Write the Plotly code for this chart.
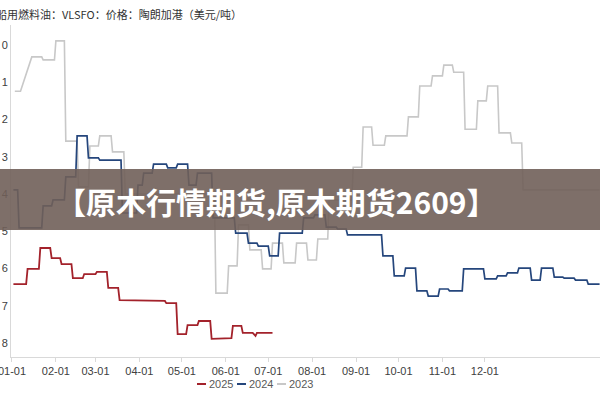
import pandas as pd
import plotly.graph_objects as go

# ---- data (day-of-year offsets from 01-01, value in axis units) ----
start_2023 = [2, 14, 22, 31, 38, 47, 55, 62, 71, 80, 144, 153, 160, 168, 177, 184, 192, 201, 209, 216,
              224, 241, 248, 255, 264, 280, 288, 297, 305, 312, 320, 329, 336, 344, 353, 361]
end_2023 = [6, 21, 30, 37, 46, 54, 61, 70, 79, 143, 152, 159, 167, 176, 183, 191, 200, 208, 215, 223,
            240, 247, 254, 263, 279, 287, 296, 304, 311, 319, 328, 335, 343, 352, 360, 415]
val_2023 = [1.24, 0.32, 0.40, -0.11, 2.58, 3.81, 2.71, 2.44, 2.87, 4.00, 6.66, 5.93, 4.83, 5.50, 6.01, 5.32,
            5.85, 5.32, 5.77, 5.21, 4.16, 3.28, 2.20, 2.69, 2.44, 1.93, 1.10, 0.83, 0.54, 0.73, 2.26, 1.50,
            1.10, 2.36, 2.63, 3.89]

start_2024 = [1, 5, 22, 29, 38, 46, 54, 62, 78, 89, 93, 100, 110, 117, 125, 131, 142, 158, 167, 174, 182,
              189, 206, 214, 222, 230, 237, 262, 270, 278, 286, 294, 302, 309, 319, 334, 343, 350, 358,
              367, 374, 383, 390, 398, 407]
val_2024 = [3.89, 4.91, 4.32, 4.16, 3.54, 2.44, 3.03, 3.09, 4.51, 3.76, 3.44, 3.20, 3.30, 3.20, 3.76, 3.44,
            4.64, 5.05, 5.32, 5.40, 5.66, 5.05, 4.64, 4.56, 4.89, 4.94, 5.10, 5.66, 6.20, 5.99, 6.60, 6.74,
            6.55, 6.60, 6.01, 6.28, 6.20, 6.12, 5.99, 6.31, 5.99, 6.23, 6.26, 6.31, 6.42]
last_day_2024 = 415

start_2025 = [1, 11, 20, 28, 35, 43, 51, 60, 68, 76, 84, 109, 117, 124, 132, 141, 148, 156, 163, 172, 173]
end_2025 = [10, 19, 27, 34, 42, 50, 59, 67, 75, 83, 108, 116, 123, 131, 140, 147, 155, 162, 170, 172, 184]
val_2025 = [6.42, 6.01, 5.45, 5.72, 5.88, 6.26, 6.15, 6.09, 6.52, 6.85, 6.87, 6.93, 7.76, 7.52, 7.41, 7.89,
            7.87, 7.54, 7.73, 7.81, 7.73]

month_ticks = ["01-01", "02-01", "03-01", "04-01", "05-01", "06-01",
               "07-01", "08-01", "09-01", "10-01", "11-01", "12-01"]
y_ticks = [0, 1, 2, 3, 4, 5, 6, 7, 8]
y_labels = ["0", "1", "2", "3", "4", "5", "6", "7", "8"]

title_text = "船用燃料油：VLSFO：价格：陶朗加港（美元/吨）"
banner_text = "【原木行情期货,原木期货2609】"
series_names = ["2025", "2024", "2023"]
series_colors = ["#a3222b", "#25467c", "#c8c8c8"]

BASE = pd.Timestamp("2001-01-01")


def to_date(d):
    return BASE + pd.to_timedelta(d, unit="D")


def path(starts, ends, vals):
    xs, ys = [], []
    for s, e, v in zip(starts, ends, vals):
        xs += [to_date(s), to_date(e)]
        ys += [v, v]
    return xs, ys


end_2024 = [s - 1 for s in start_2024[1:]] + [last_day_2024]

x23, y23 = path(start_2023, end_2023, val_2023)
x24, y24 = path(start_2024, end_2024, val_2024)
x25, y25 = path(start_2025, end_2025, val_2025)

fig = go.Figure()
fig.add_trace(go.Scatter(x=x23, y=y23, mode="lines", name="2023",
                         line=dict(color=series_colors[2], width=1.6), showlegend=False))
fig.add_trace(go.Scatter(x=x24, y=y24, mode="lines", name="2024",
                         line=dict(color=series_colors[1], width=1.7), showlegend=False))
fig.add_trace(go.Scatter(x=x25, y=y25, mode="lines", name="2025",
                         line=dict(color=series_colors[0], width=1.8), showlegend=False))

W, H = 600, 400
plot_left, plot_right, plot_top, plot_bottom = 11, 600, 25, 357
L, T, R, B = plot_left, plot_top, W - plot_right, H - plot_bottom
pw, ph = W - L - R, H - T - B


def px(xp):
    return (xp - plot_left) / pw


def py(yp):
    return (plot_bottom - yp) / ph


font_fam = "Liberation Sans, Arial, Noto Sans CJK SC, sans-serif"

fig.update_layout(
    width=W, height=H,
    margin=dict(l=L, r=R, t=T, b=B, autoexpand=False),
    paper_bgcolor="white", plot_bgcolor="white",
    font=dict(family=font_fam, size=11, color="#404040"),
    hovermode=False,
    xaxis=dict(
        type="date", automargin=False, ticklabeloverflow="allow",
        range=[to_date(-0.7), to_date(415.3)],
        tickvals=[pd.Timestamp(f"2001-{m[:2]}-01") for m in month_ticks],
        ticktext=month_ticks,
        showline=True, linecolor="#d9d9d9", linewidth=1,
        ticks="outside", ticklen=4, tickcolor="#d9d9d9",
        showgrid=False, zeroline=False,
        tickfont=dict(size=11, color="#404040"),
    ),
    yaxis=dict(
        automargin=False, ticklabeloverflow="allow",
        range=[8.376, -0.537],
        tickvals=y_ticks, ticktext=y_labels,
        showline=True, linecolor="#d9d9d9", linewidth=1,
        ticks="", showgrid=False, zeroline=False,
        tickfont=dict(size=11, color="#404040"),
    ),
)

shapes = []
annotations = []

# title (cropped at the left edge as in the source image)
annotations.append(dict(xref="paper", yref="paper", x=px(-6), y=py(14), xanchor="left", yanchor="middle",
                        text=title_text, showarrow=False,
                        font=dict(size=11, color="#333333", family="Noto Sans CJK SC, sans-serif")))

# custom legend
leg_x = [197, 237, 277]
for i, (name, col) in enumerate(zip(series_names, series_colors)):
    x0 = leg_x[i]
    shapes.append(dict(type="line", xref="paper", yref="paper", x0=px(x0), x1=px(x0 + 9),
                       y0=py(384), y1=py(384), line=dict(color=col, width=2)))
    annotations.append(dict(xref="paper", yref="paper", x=px(x0 + 10), y=py(384), xanchor="left",
                            yanchor="middle", text=name, showarrow=False,
                            font=dict(size=11, color="#595959")))

# overlay banner
shapes.append(dict(type="rect", xref="paper", yref="paper", x0=px(-2), x1=px(602), y0=py(230), y1=py(169),
                   fillcolor="rgba(112,95,89,0.9)", line=dict(width=0), layer="above"))
annotations.append(dict(xref="paper", yref="paper", x=px(276), y=py(201), xanchor="center", yanchor="middle",
                        text="<b>" + banner_text + "</b>", showarrow=False,
                        font=dict(size=30, color="white", family="Noto Sans CJK SC, sans-serif")))

fig.update_layout(shapes=shapes, annotations=annotations)
fig.write_html("out.html", config={"displayModeBar": False},
               post_script="document.body.style.margin='0px';")
